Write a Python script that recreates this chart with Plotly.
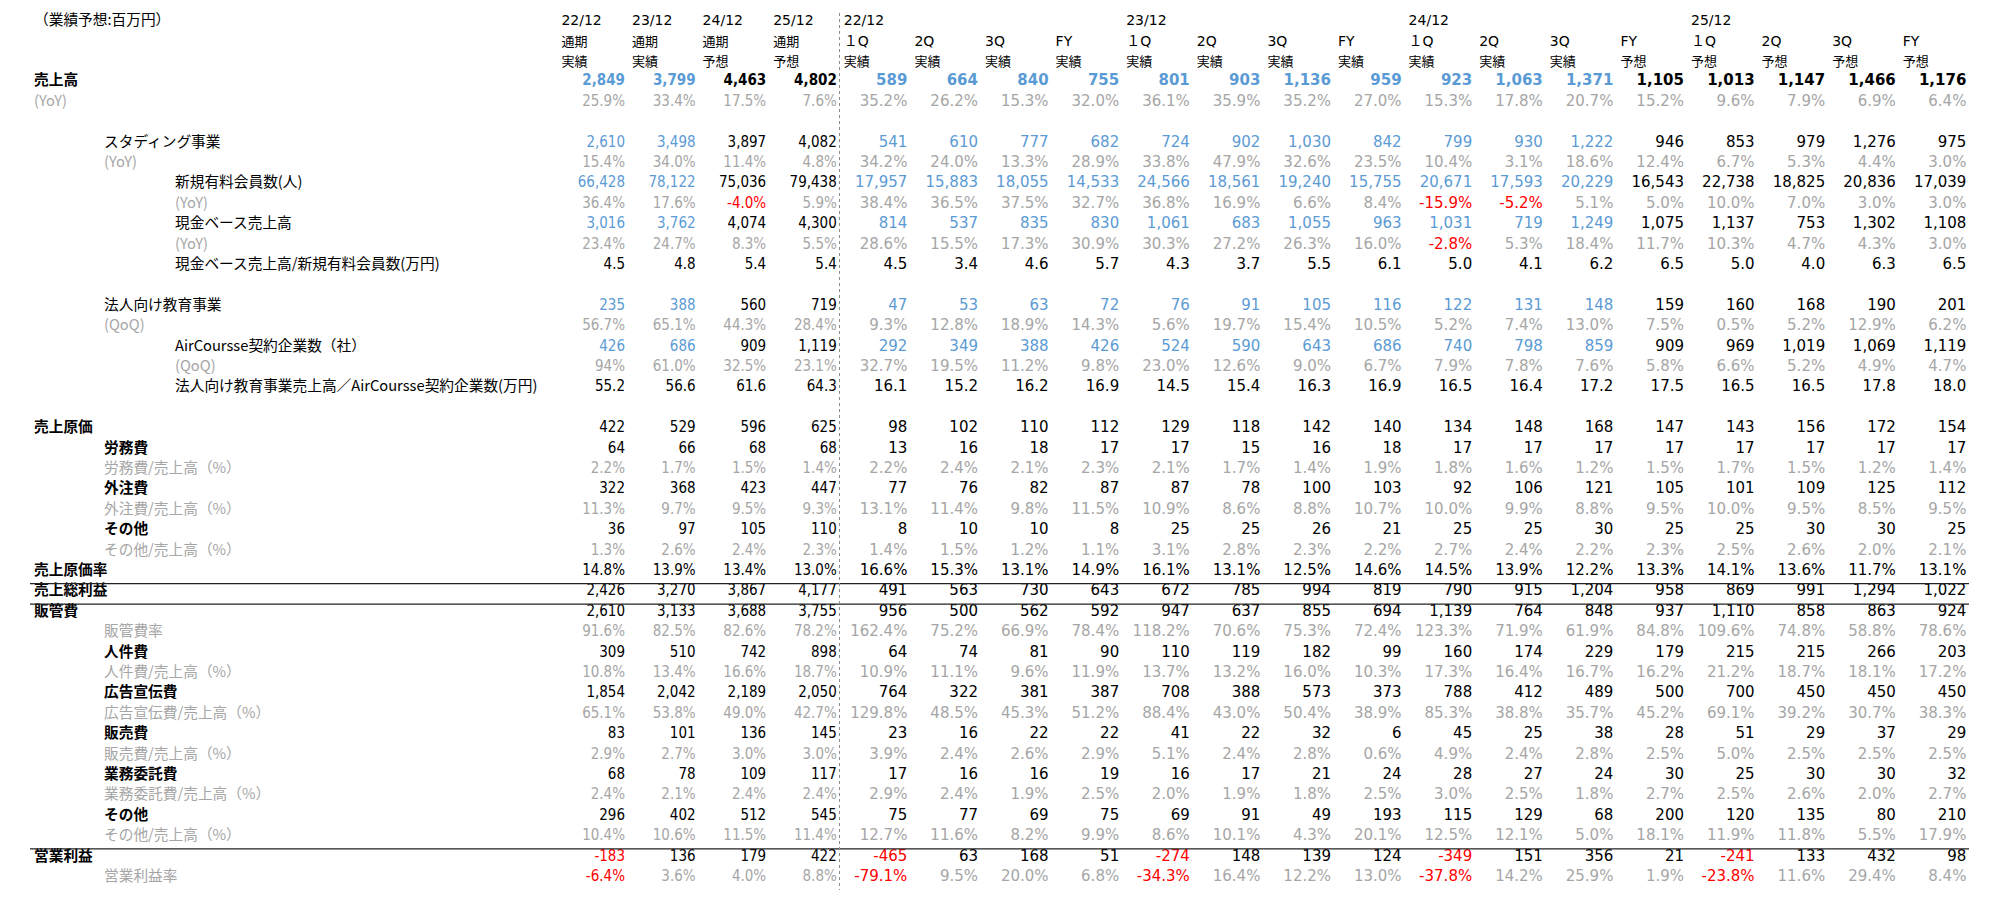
import plotly.graph_objects as go

# column headers: 4 annual + 16 quarterly
annual_years = ["22/12", "23/12", "24/12", "25/12"]
annual_kind = ["通期", "通期", "通期", "通期"]
annual_status = ["実績", "実績", "予想", "予想"]

q_years = ["22/12", "", "", "", "23/12", "", "", "", "24/12", "", "", "", "25/12", "", "", ""]
q_periods = ["１Q", "2Q", "3Q", "FY"] * 4
q_status = ["実績"] * 11 + ["予想"] * 5

# which of the 20 columns are actual results (blue on the KPI rows)
actual_cols = [True, True, False, False] + [True] * 11 + [False] * 5

# values: 4 annual + 16 quarterly per row
sales = [2849, 3799, 4463, 4802, 589, 664, 840, 755, 801, 903, 1136, 959, 923, 1063, 1371, 1105, 1013, 1147, 1466, 1176]
sales_yoy = [25.9, 33.4, 17.5, 7.6, 35.2, 26.2, 15.3, 32.0, 36.1, 35.9, 35.2, 27.0, 15.3, 17.8, 20.7, 15.2, 9.6, 7.9, 6.9, 6.4]
studying = [2610, 3498, 3897, 4082, 541, 610, 777, 682, 724, 902, 1030, 842, 799, 930, 1222, 946, 853, 979, 1276, 975]
studying_yoy = [15.4, 34.0, 11.4, 4.8, 34.2, 24.0, 13.3, 28.9, 33.8, 47.9, 32.6, 23.5, 10.4, 3.1, 18.6, 12.4, 6.7, 5.3, 4.4, 3.0]
new_members = [66428, 78122, 75036, 79438, 17957, 15883, 18055, 14533, 24566, 18561, 19240, 15755, 20671, 17593, 20229, 16543, 22738, 18825, 20836, 17039]
new_members_yoy = [36.4, 17.6, -4.0, 5.9, 38.4, 36.5, 37.5, 32.7, 36.8, 16.9, 6.6, 8.4, -15.9, -5.2, 5.1, 5.0, 10.0, 7.0, 3.0, 3.0]
cash_sales = [3016, 3762, 4074, 4300, 814, 537, 835, 830, 1061, 683, 1055, 963, 1031, 719, 1249, 1075, 1137, 753, 1302, 1108]
cash_sales_yoy = [23.4, 24.7, 8.3, 5.5, 28.6, 15.5, 17.3, 30.9, 30.3, 27.2, 26.3, 16.0, -2.8, 5.3, 18.4, 11.7, 10.3, 4.7, 4.3, 3.0]
cash_per_member = [4.5, 4.8, 5.4, 5.4, 4.5, 3.4, 4.6, 5.7, 4.3, 3.7, 5.5, 6.1, 5.0, 4.1, 6.2, 6.5, 5.0, 4.0, 6.3, 6.5]
corporate = [235, 388, 560, 719, 47, 53, 63, 72, 76, 91, 105, 116, 122, 131, 148, 159, 160, 168, 190, 201]
corporate_qoq = [56.7, 65.1, 44.3, 28.4, 9.3, 12.8, 18.9, 14.3, 5.6, 19.7, 15.4, 10.5, 5.2, 7.4, 13.0, 7.5, 0.5, 5.2, 12.9, 6.2]
aircourse = [426, 686, 909, 1119, 292, 349, 388, 426, 524, 590, 643, 686, 740, 798, 859, 909, 969, 1019, 1069, 1119]
aircourse_qoq = ["94%", 61.0, 32.5, 23.1, 32.7, 19.5, 11.2, 9.8, 23.0, 12.6, 9.0, 6.7, 7.9, 7.8, 7.6, 5.8, 6.6, 5.2, 4.9, 4.7]
corp_per_company = [55.2, 56.6, 61.6, 64.3, 16.1, 15.2, 16.2, 16.9, 14.5, 15.4, 16.3, 16.9, 16.5, 16.4, 17.2, 17.5, 16.5, 16.5, 17.8, 18.0]
cogs = [422, 529, 596, 625, 98, 102, 110, 112, 129, 118, 142, 140, 134, 148, 168, 147, 143, 156, 172, 154]
labor = [64, 66, 68, 68, 13, 16, 18, 17, 17, 15, 16, 18, 17, 17, 17, 17, 17, 17, 17, 17]
labor_pct = [2.2, 1.7, 1.5, 1.4, 2.2, 2.4, 2.1, 2.3, 2.1, 1.7, 1.4, 1.9, 1.8, 1.6, 1.2, 1.5, 1.7, 1.5, 1.2, 1.4]
outsourcing = [322, 368, 423, 447, 77, 76, 82, 87, 87, 78, 100, 103, 92, 106, 121, 105, 101, 109, 125, 112]
outsourcing_pct = [11.3, 9.7, 9.5, 9.3, 13.1, 11.4, 9.8, 11.5, 10.9, 8.6, 8.8, 10.7, 10.0, 9.9, 8.8, 9.5, 10.0, 9.5, 8.5, 9.5]
cogs_other = [36, 97, 105, 110, 8, 10, 10, 8, 25, 25, 26, 21, 25, 25, 30, 25, 25, 30, 30, 25]
cogs_other_pct = [1.3, 2.6, 2.4, 2.3, 1.4, 1.5, 1.2, 1.1, 3.1, 2.8, 2.3, 2.2, 2.7, 2.4, 2.2, 2.3, 2.5, 2.6, 2.0, 2.1]
cogs_ratio = [14.8, 13.9, 13.4, 13.0, 16.6, 15.3, 13.1, 14.9, 16.1, 13.1, 12.5, 14.6, 14.5, 13.9, 12.2, 13.3, 14.1, 13.6, 11.7, 13.1]
gross_profit = [2426, 3270, 3867, 4177, 491, 563, 730, 643, 672, 785, 994, 819, 790, 915, 1204, 958, 869, 991, 1294, 1022]
sga = [2610, 3133, 3688, 3755, 956, 500, 562, 592, 947, 637, 855, 694, 1139, 764, 848, 937, 1110, 858, 863, 924]
sga_ratio = [91.6, 82.5, 82.6, 78.2, 162.4, 75.2, 66.9, 78.4, 118.2, 70.6, 75.3, 72.4, 123.3, 71.9, 61.9, 84.8, 109.6, 74.8, 58.8, 78.6]
personnel = [309, 510, 742, 898, 64, 74, 81, 90, 110, 119, 182, 99, 160, 174, 229, 179, 215, 215, 266, 203]
personnel_pct = [10.8, 13.4, 16.6, 18.7, 10.9, 11.1, 9.6, 11.9, 13.7, 13.2, 16.0, 10.3, 17.3, 16.4, 16.7, 16.2, 21.2, 18.7, 18.1, 17.2]
advertising = [1854, 2042, 2189, 2050, 764, 322, 381, 387, 708, 388, 573, 373, 788, 412, 489, 500, 700, 450, 450, 450]
advertising_pct = [65.1, 53.8, 49.0, 42.7, 129.8, 48.5, 45.3, 51.2, 88.4, 43.0, 50.4, 38.9, 85.3, 38.8, 35.7, 45.2, 69.1, 39.2, 30.7, 38.3]
selling = [83, 101, 136, 145, 23, 16, 22, 22, 41, 22, 32, 6, 45, 25, 38, 28, 51, 29, 37, 29]
selling_pct = [2.9, 2.7, 3.0, 3.0, 3.9, 2.4, 2.6, 2.9, 5.1, 2.4, 2.8, 0.6, 4.9, 2.4, 2.8, 2.5, 5.0, 2.5, 2.5, 2.5]
contract = [68, 78, 109, 117, 17, 16, 16, 19, 16, 17, 21, 24, 28, 27, 24, 30, 25, 30, 30, 32]
contract_pct = [2.4, 2.1, 2.4, 2.4, 2.9, 2.4, 1.9, 2.5, 2.0, 1.9, 1.8, 2.5, 3.0, 2.5, 1.8, 2.7, 2.5, 2.6, 2.0, 2.7]
sga_other = [296, 402, 512, 545, 75, 77, 69, 75, 69, 91, 49, 193, 115, 129, 68, 200, 120, 135, 80, 210]
sga_other_pct = [10.4, 10.6, 11.5, 11.4, 12.7, 11.6, 8.2, 9.9, 8.6, 10.1, 4.3, 20.1, 12.5, 12.1, 5.0, 18.1, 11.9, 11.8, 5.5, 17.9]
op_income = [-183, 136, 179, 422, -465, 63, 168, 51, -274, 148, 139, 124, -349, 151, 356, 21, -241, 133, 432, 98]
op_margin = [-6.4, 3.6, 4.0, 8.8, -79.1, 9.5, 20.0, 6.8, -34.3, 16.4, 12.2, 13.0, -37.8, 14.2, 25.9, 1.9, -23.8, 11.6, 29.4, 8.4]

# label, indent level, style, number format, values
# style: "top" bold + blue actuals, "kpi" blue actuals, "ratio" gray, "bold"/"plain" black
rows = [
    ("売上高", 0, "top", "int", sales),
    ("(YoY)", 0, "ratio", "pct", sales_yoy),
    None,
    ("スタディング事業", 1, "kpi", "int", studying),
    ("(YoY)", 1, "ratio", "pct", studying_yoy),
    ("新規有料会員数(人)", 2, "kpi", "int", new_members),
    ("(YoY)", 2, "ratio", "pct", new_members_yoy),
    ("現金ベース売上高", 2, "kpi", "int", cash_sales),
    ("(YoY)", 2, "ratio", "pct", cash_sales_yoy),
    ("現金ベース売上高/新規有料会員数(万円)", 2, "plain", "dec", cash_per_member),
    None,
    ("法人向け教育事業", 1, "kpi", "int", corporate),
    ("(QoQ)", 1, "ratio", "pct", corporate_qoq),
    ("AirCoursse契約企業数（社）", 2, "kpi", "int", aircourse),
    ("(QoQ)", 2, "ratio", "pct", aircourse_qoq),
    ("法人向け教育事業売上高／AirCoursse契約企業数(万円)", 2, "plain", "dec", corp_per_company),
    None,
    ("売上原価", 0, "bold", "int", cogs),
    ("労務費", 1, "bold", "int", labor),
    ("労務費/売上高（%）", 1, "ratio", "pct", labor_pct),
    ("外注費", 1, "bold", "int", outsourcing),
    ("外注費/売上高（%）", 1, "ratio", "pct", outsourcing_pct),
    ("その他", 1, "bold", "int", cogs_other),
    ("その他/売上高（%）", 1, "ratio", "pct", cogs_other_pct),
    ("売上原価率", 0, "bold", "pct", cogs_ratio),
    ("売上総利益", 0, "bold", "int", gross_profit),
    ("販管費", 0, "bold", "int", sga),
    ("販管費率", 1, "ratio", "pct", sga_ratio),
    ("人件費", 1, "bold", "int", personnel),
    ("人件費/売上高（%）", 1, "ratio", "pct", personnel_pct),
    ("広告宣伝費", 1, "bold", "int", advertising),
    ("広告宣伝費/売上高（%）", 1, "ratio", "pct", advertising_pct),
    ("販売費", 1, "bold", "int", selling),
    ("販売費/売上高（%）", 1, "ratio", "pct", selling_pct),
    ("業務委託費", 1, "bold", "int", contract),
    ("業務委託費/売上高（%）", 1, "ratio", "pct", contract_pct),
    ("その他", 1, "bold", "int", sga_other),
    ("その他/売上高（%）", 1, "ratio", "pct", sga_other_pct),
    ("営業利益", 0, "bold", "int", op_income),
    ("営業利益率", 1, "ratio", "pct", op_margin),
]

BLUE = "#5B9BD5"
GRAY = "#A6A6A6"
RED = "#FF0000"
BLACK = "#000000"

JP = "Noto Sans CJK JP"
NUM_A = "DejaVu Sans Condensed, DejaVu Sans"
NUM_Q = "DejaVu Sans"

# geometry in page pixels
col_w = 70.6
col_right = [625 + col_w * k for k in range(20)]
row_y0, row_h = 81.7, 20.4
indent_x = [34, 104, 175]


def fmt(v, kind):
    if isinstance(v, str):
        return v
    if kind == "int":
        return f"{v:,.0f}"
    if kind == "pct":
        return f"{v:.1f}%"
    return f"{v:.1f}"


def cell_color(v, style, k):
    if not isinstance(v, str) and v < 0:
        return RED
    if style == "ratio":
        return GRAY
    if style in ("kpi", "top") and actual_cols[k]:
        return BLUE
    return BLACK


fig = go.Figure()

lab_x, lab_y, lab_t, lab_c = [], [], [], []
vals = {"a": ([], [], [], []), "q": ([], [], [], [])}
for i, row in enumerate(rows):
    if row is None:
        continue
    label, ind, style, kind, values = row
    y = row_y0 + row_h * i
    lab_x.append(indent_x[ind])
    lab_y.append(y)
    lab_t.append(f"<b>{label}</b>" if style in ("top", "bold") else label)
    lab_c.append(GRAY if style == "ratio" else BLACK)
    for k, v in enumerate(values):
        t = fmt(v, kind)
        if style == "top":
            t = f"<b>{t}</b>"
        g = vals["a" if k < 4 else "q"]
        g[0].append(col_right[k])
        g[1].append(y)
        g[2].append(t)
        g[3].append(cell_color(v, style, k))

fig.add_trace(go.Scatter(x=lab_x, y=lab_y, text=lab_t, mode="text", textposition="middle right",
                         textfont=dict(family=JP, size=14.7, color=lab_c), hoverinfo="skip"))
for key, family in (("a", NUM_A), ("q", NUM_Q)):
    xs, ys, ts, cs = vals[key]
    fig.add_trace(go.Scatter(x=xs, y=ys, text=ts, mode="text", textposition="middle left",
                             textfont=dict(family=family, size=15, color=cs), hoverinfo="skip"))

# column headers
years = annual_years + q_years
kinds = annual_kind + q_periods
stats = annual_status + q_status
hx, hy, ht = [], [], []
jx, jy, jt = [], [], []
for k in range(20):
    left = col_right[k] - col_w + 7
    if years[k]:
        hx.append(left); hy.append(21.7); ht.append(years[k])
    if kinds[k] == "通期":
        jx.append(left); jy.append(42.7); jt.append(kinds[k])
    else:
        hx.append(left); hy.append(42.7); ht.append(kinds[k])
    jx.append(left); jy.append(62.7); jt.append(stats[k])
fig.add_trace(go.Scatter(x=hx, y=hy, text=ht, mode="text", textposition="middle right",
                         textfont=dict(family="DejaVu Sans, " + JP, size=14, color=BLACK), hoverinfo="skip"))
fig.add_trace(go.Scatter(x=jx, y=jy, text=jt, mode="text", textposition="middle right",
                         textfont=dict(family=JP, size=13, color=BLACK), hoverinfo="skip"))
fig.add_trace(go.Scatter(x=[34], y=[21.7], text=["（業績予想:百万円）"], mode="text", textposition="middle right",
                         textfont=dict(family=JP, size=14.7, color=BLACK), hoverinfo="skip"))

# rules above 売上総利益, 販管費, 営業利益 and the dotted annual/quarterly divider
for i in (25, 26, 38):
    y = row_y0 + row_h * i - 8
    fig.add_shape(type="line", x0=30, x1=1969, y0=y, y1=y, line=dict(color="#222222", width=1.3))
fig.add_shape(type="line", x0=839.5, x1=839.5, y0=13, y1=890, line=dict(color="#8C8C8C", width=1, dash="dot"))

fig.update_layout(
    width=1984, height=888, autosize=False,
    margin=dict(l=0, r=0, t=0, b=0),
    paper_bgcolor="white", plot_bgcolor="white",
    showlegend=False,
    xaxis=dict(range=[8, 1992], visible=False, fixedrange=True),
    yaxis=dict(range=[896, 8], visible=False, fixedrange=True),
)

fig.write_html("out.html")
